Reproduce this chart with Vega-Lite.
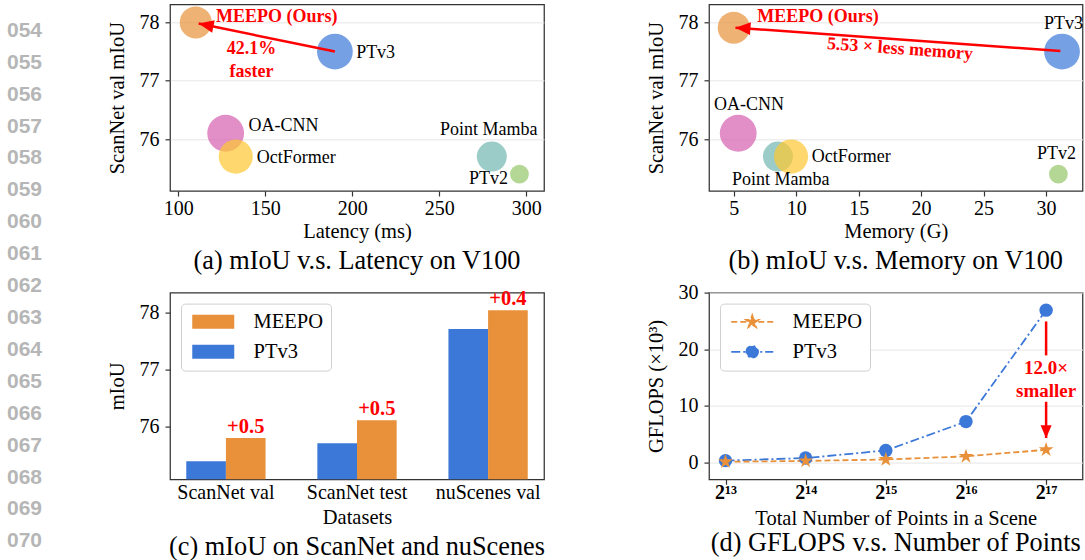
{
  "$schema": "https://vega.github.io/schema/vega-lite/v6.json",
  "padding": {"left": 0, "top": 3.3, "right": 0, "bottom": 0},
  "background": "white",
  "columns": 5,
  "spacing": {"row": 101.3, "column": 10},
  "bounds": "flush",
  "align": "each",
  "resolve": {
    "scale": {"color": "independent", "size": "independent", "shape": "independent", "strokeDash": "independent"},
    "legend": {"color": "independent", "size": "independent", "shape": "independent", "strokeDash": "independent"}
  },
  "config": {
    "font": "Liberation Serif",
    "view": {"stroke": null},
    "axis": {
      "domain": false, "tickColor": "#333333", "tickSize": 5, "tickWidth": 1.2,
      "labelFont": "Liberation Serif", "labelFontSize": 20, "labelColor": "#000000",
      "titleFont": "Liberation Serif", "titleFontSize": 20.5, "titleFontWeight": "normal", "titleColor": "#000000",
      "gridColor": "#e6e6e6", "gridWidth": 1, "labelPadding": 2.5, "labelFlush": false, "labelOverlap": false
    },
    "axisX": {"titlePadding": 3.5},
    "axisY": {"labelPadding": 6, "titlePadding": 11.5},
    "title": {"font": "Liberation Serif", "fontSize": 26.3, "fontWeight": "normal", "color": "#000000"}
  },
  "datasets": {
    "lnTop": [
      {"n": 54, "label": "054"}, {"n": 55, "label": "055"}, {"n": 56, "label": "056"}, {"n": 57, "label": "057"},
      {"n": 58, "label": "058"}, {"n": 59, "label": "059"}, {"n": 60, "label": "060"}, {"n": 61, "label": "061"}
    ],
    "lnBot": [
      {"n": 62, "label": "062"}, {"n": 63, "label": "063"}, {"n": 64, "label": "064"}, {"n": 65, "label": "065"},
      {"n": 66, "label": "066"}, {"n": 67, "label": "067"}, {"n": 68, "label": "068"}, {"n": 69, "label": "069"},
      {"n": 70, "label": "070"}
    ],
    "models": [
      {"model": "PTv3", "latency": 190, "memory": 31.28, "miou_lat": 77.5, "miou_mem": 77.5, "params": 46.2},
      {"model": "MEEPO", "latency": 110, "memory": 5.0, "miou_lat": 78.0, "miou_mem": 77.91, "params": 37},
      {"model": "OA-CNN", "latency": 127.2, "memory": 5.36, "miou_lat": 76.1, "miou_mem": 76.1, "params": 49},
      {"model": "Point Mamba", "latency": 280.2, "memory": 8.54, "miou_lat": 75.7, "miou_mem": 75.7, "params": 32.5},
      {"model": "OctFormer", "latency": 133.0, "memory": 9.59, "miou_lat": 75.7, "miou_mem": 75.7, "params": 42},
      {"model": "PTv2", "latency": 296.1, "memory": 30.99, "miou_lat": 75.4, "miou_mem": 75.4, "params": 12.7}
    ],
    "labelsA": [
      {"model": "PTv3", "x": 202.2, "y": 77.48},
      {"model": "OA-CNN", "x": 140.3, "y": 76.22},
      {"model": "OctFormer", "x": 145.1, "y": 75.68},
      {"model": "Point Mamba", "x": 250.4, "y": 76.15},
      {"model": "PTv2", "x": 267.1, "y": 75.31}
    ],
    "labelsB": [
      {"model": "PTv3", "x": 29.84, "y": 77.98},
      {"model": "OA-CNN", "x": 3.42, "y": 76.59},
      {"model": "OctFormer", "x": 11.25, "y": 75.70},
      {"model": "Point Mamba", "x": 4.86, "y": 75.29},
      {"model": "PTv2", "x": 29.28, "y": 75.75}
    ],
    "notesA": [
      {"text": "MEEPO (Ours)", "x": 156.6, "y": 78.09},
      {"text": "42.1%", "x": 142.0, "y": 77.54},
      {"text": "faster", "x": 142.0, "y": 77.15}
    ],
    "notesB": [{"text": "MEEPO (Ours)", "x": 11.74, "y": 78.09}],
    "noteB2": [{"text": "5.53 × less memory", "x": 18.3, "y": 77.54}],
    "arrowA": [{"x1": 190, "y1": 77.5, "x2": 111.7, "y2": 77.98}],
    "arrowB": [{"x1": 31.15, "y1": 77.51, "x2": 5.14, "y2": 77.91}],
    "bars": [
      {"dataset": "ScanNet val", "model": "PTv3", "miou": 75.384, "gain": null},
      {"dataset": "ScanNet val", "model": "MEEPO", "miou": 75.794, "gain": "+0.5"},
      {"dataset": "ScanNet test", "model": "PTv3", "miou": 75.70, "gain": null},
      {"dataset": "ScanNet test", "model": "MEEPO", "miou": 76.106, "gain": "+0.5"},
      {"dataset": "nuScenes val", "model": "PTv3", "miou": 77.71, "gain": null},
      {"dataset": "nuScenes val", "model": "MEEPO", "miou": 78.04, "gain": "+0.4"}
    ],
    "flops": [
      {"model": "PTv3", "points": 8192, "gflops": 0.3},
      {"model": "PTv3", "points": 16384, "gflops": 0.75},
      {"model": "PTv3", "points": 32768, "gflops": 2.1},
      {"model": "PTv3", "points": 65536, "gflops": 7.2},
      {"model": "PTv3", "points": 131072, "gflops": 26.9},
      {"model": "MEEPO", "points": 8192, "gflops": 0.1},
      {"model": "MEEPO", "points": 16384, "gflops": 0.25},
      {"model": "MEEPO", "points": 32768, "gflops": 0.5},
      {"model": "MEEPO", "points": 65536, "gflops": 1.05},
      {"model": "MEEPO", "points": 131072, "gflops": 2.22}
    ],
    "arrowD": [
      {"points": 131072, "y1": 24.9, "y2": 18.9},
      {"points": 131072, "y1": 10.7, "y2": 4.3}
    ],
    "headD": [{"points": 131072, "y": 4.25}],
    "notesD": [
      {"text": "12.0×", "points": 131072, "y": 16.6},
      {"text": "smaller", "points": 131072, "y": 12.6}
    ]
  },
  "concat": [
    {
      "width": 49, "height": 186.7,
      "data": {"name": "lnTop"},
      "mark": {"type": "text", "font": "Liberation Sans", "fontWeight": "bold", "fontSize": 21, "color": "#b6b6b6", "baseline": "middle"},
      "encoding": {
        "y": {"field": "n", "type": "quantitative", "scale": {"domain": [53.1624, 59.0196], "reverse": true, "nice": false, "zero": false}, "axis": null},
        "text": {"field": "label", "type": "nominal"}
      }
    },
    {"width": 100.4, "height": 186.7, "data": {"values": []}, "mark": "point"},
    {
      "width": 374, "height": 186.7,
      "view": {"stroke": "#333333", "strokeWidth": 1.25},
      "title": {"text": "(a) mIoU v.s. Latency on V100", "orient": "bottom", "offset": 5.5, "frame": "group", "anchor": "middle"},
      "layer": [
        {
          "data": {"name": "models"},
          "mark": {"type": "circle", "opacity": 0.7},
          "encoding": {
            "x": {"field": "latency", "type": "quantitative", "title": "Latency (ms)", "scale": {"domain": [95.2, 310.2], "nice": false, "zero": false}, "axis": {"values": [100, 150, 200, 250, 300], "grid": false, "format": "d"}},
            "y": {"field": "miou_lat", "type": "quantitative", "title": "ScanNet val mIoU", "scale": {"domain": [75.11, 78.31], "nice": false, "zero": false}, "axis": {"values": [76, 77, 78], "grid": true, "format": "d"}},
            "size": {"field": "params", "type": "quantitative", "scale": {"domain": [0, 50], "range": [0, 1385]}, "legend": null},
            "color": {"field": "model", "type": "nominal", "scale": {"domain": ["MEEPO", "PTv3", "OA-CNN", "OctFormer", "Point Mamba", "PTv2"], "range": ["#E8913A", "#3C78D8", "#D660B0", "#FEC730", "#72B6AF", "#94C66A"]}, "legend": null}
          }
        },
        {
          "data": {"name": "labelsA"},
          "mark": {"type": "text", "align": "left", "baseline": "middle", "fontSize": 18, "font": "Liberation Serif", "color": "#000000"},
          "encoding": {
            "x": {"field": "x", "type": "quantitative", "title": "Latency (ms)"},
            "y": {"field": "y", "type": "quantitative", "title": "ScanNet val mIoU"},
            "text": {"field": "model", "type": "nominal"}
          }
        },
        {
          "data": {"name": "notesA"},
          "mark": {"type": "text", "align": "center", "baseline": "middle", "fontSize": 18, "font": "Liberation Serif", "fontWeight": "bold", "color": "#ff0000"},
          "encoding": {
            "x": {"field": "x", "type": "quantitative", "title": "Latency (ms)"},
            "y": {"field": "y", "type": "quantitative", "title": "ScanNet val mIoU"},
            "text": {"field": "text", "type": "nominal"}
          }
        },
        {
          "data": {"name": "arrowA"},
          "mark": {"type": "rule", "color": "#ff0000", "strokeWidth": 2.5},
          "encoding": {
            "x": {"field": "x1", "type": "quantitative", "title": "Latency (ms)"},
            "y": {"field": "y1", "type": "quantitative", "title": "ScanNet val mIoU"},
            "x2": {"field": "x2"},
            "y2": {"field": "y2"}
          }
        },
        {
          "data": {"name": "arrowA"},
          "mark": {"type": "point", "shape": "M0,0L2,-0.85L2,0.85Z", "filled": true, "color": "#ff0000", "opacity": 1, "size": 225, "angle": 11.6},
          "encoding": {
            "x": {"field": "x2", "type": "quantitative", "title": "Latency (ms)"},
            "y": {"field": "y2", "type": "quantitative", "title": "ScanNet val mIoU"}
          }
        }
      ]
    },
    {"width": 144.1, "height": 186.7, "data": {"values": []}, "mark": "point"},
    {
      "width": 373.5, "height": 186.7,
      "view": {"stroke": "#333333", "strokeWidth": 1.25},
      "title": {"text": "(b) mIoU v.s. Memory on V100", "orient": "bottom", "offset": 5.5, "frame": "group", "anchor": "middle"},
      "layer": [
        {
          "data": {"name": "models"},
          "mark": {"type": "circle", "opacity": 0.7},
          "encoding": {
            "x": {"field": "memory", "type": "quantitative", "title": "Memory (G)", "scale": {"domain": [3.02, 32.92], "nice": false, "zero": false}, "axis": {"values": [5, 10, 15, 20, 25, 30], "grid": false, "format": "d"}},
            "y": {"field": "miou_mem", "type": "quantitative", "title": "ScanNet val mIoU", "scale": {"domain": [75.11, 78.31], "nice": false, "zero": false}, "axis": {"values": [76, 77, 78], "grid": true, "format": "d"}},
            "size": {"field": "params", "type": "quantitative", "scale": {"domain": [0, 50], "range": [0, 1385]}, "legend": null},
            "color": {"field": "model", "type": "nominal", "scale": {"domain": ["MEEPO", "PTv3", "OA-CNN", "OctFormer", "Point Mamba", "PTv2"], "range": ["#E8913A", "#3C78D8", "#D660B0", "#FEC730", "#72B6AF", "#94C66A"]}, "legend": null}
          }
        },
        {
          "data": {"name": "labelsB"},
          "mark": {"type": "text", "align": "left", "baseline": "middle", "fontSize": 18, "font": "Liberation Serif", "color": "#000000"},
          "encoding": {
            "x": {"field": "x", "type": "quantitative", "title": "Memory (G)"},
            "y": {"field": "y", "type": "quantitative", "title": "ScanNet val mIoU"},
            "text": {"field": "model", "type": "nominal"}
          }
        },
        {
          "data": {"name": "notesB"},
          "mark": {"type": "text", "align": "center", "baseline": "middle", "fontSize": 18, "font": "Liberation Serif", "fontWeight": "bold", "color": "#ff0000"},
          "encoding": {
            "x": {"field": "x", "type": "quantitative", "title": "Memory (G)"},
            "y": {"field": "y", "type": "quantitative", "title": "ScanNet val mIoU"},
            "text": {"field": "text", "type": "nominal"}
          }
        },
        {
          "data": {"name": "noteB2"},
          "mark": {"type": "text", "align": "center", "baseline": "middle", "fontSize": 18, "font": "Liberation Serif", "fontWeight": "bold", "color": "#ff0000", "angle": 4.1},
          "encoding": {
            "x": {"field": "x", "type": "quantitative", "title": "Memory (G)"},
            "y": {"field": "y", "type": "quantitative", "title": "ScanNet val mIoU"},
            "text": {"field": "text", "type": "nominal"}
          }
        },
        {
          "data": {"name": "arrowB"},
          "mark": {"type": "rule", "color": "#ff0000", "strokeWidth": 2.5},
          "encoding": {
            "x": {"field": "x1", "type": "quantitative", "title": "Memory (G)"},
            "y": {"field": "y1", "type": "quantitative", "title": "ScanNet val mIoU"},
            "x2": {"field": "x2"},
            "y2": {"field": "y2"}
          }
        },
        {
          "data": {"name": "arrowB"},
          "mark": {"type": "point", "shape": "M0,0L2,-0.85L2,0.85Z", "filled": true, "color": "#ff0000", "opacity": 1, "size": 225, "angle": 4.1},
          "encoding": {
            "x": {"field": "x2", "type": "quantitative", "title": "Memory (G)"},
            "y": {"field": "y2", "type": "quantitative", "title": "ScanNet val mIoU"}
          }
        }
      ]
    },
    {
      "width": 49, "height": 186.7,
      "data": {"name": "lnBot"},
      "mark": {"type": "text", "font": "Liberation Sans", "fontWeight": "bold", "fontSize": 21, "color": "#b6b6b6", "baseline": "middle"},
      "encoding": {
        "y": {"field": "n", "type": "quantitative", "scale": {"domain": [62.1976, 68.0549], "reverse": true, "nice": false, "zero": false}, "axis": null},
        "text": {"field": "label", "type": "nominal"}
      }
    },
    {"width": 100.4, "height": 186.7, "data": {"values": []}, "mark": "point"},
    {
      "width": 374, "height": 186.7,
      "view": {"stroke": "#333333", "strokeWidth": 1.25},
      "title": {"text": "(c) mIoU on ScanNet and nuScenes", "orient": "bottom", "offset": 6.5, "frame": "group", "anchor": "middle"},
      "data": {"name": "bars"},
      "layer": [
        {
          "mark": {"type": "bar", "clip": true},
          "encoding": {
            "x": {"field": "dataset", "type": "nominal", "title": "Datasets", "sort": ["ScanNet val", "ScanNet test", "nuScenes val"], "scale": {"paddingInner": 0.395, "paddingOuter": 0.124}, "axis": {"labelAngle": 0, "ticks": false, "labelPadding": 3.5, "titlePadding": 4.5}},
            "xOffset": {"field": "model", "type": "nominal", "scale": {"domain": ["PTv3", "MEEPO"], "paddingInner": 0, "paddingOuter": 0}},
            "y": {"field": "miou", "type": "quantitative", "title": "mIoU", "scale": {"domain": [75.068, 78.352], "nice": false, "zero": false}, "axis": {"values": [76, 77, 78], "grid": false, "format": "d"}},
            "color": {
              "field": "model", "type": "nominal",
              "scale": {"domain": ["MEEPO", "PTv3"], "range": ["#E8913A", "#3C78D8"]},
              "legend": {
                "title": null, "orient": "top-left", "offset": 10.5, "padding": 8,
                "symbolType": "M-1,-1L5,-1L5,1L-1,1Z", "symbolSize": 196, "symbolStrokeWidth": 0, "symbolOpacity": 1,
                "labelOffset": 44, "rowPadding": 9, "labelFontSize": 20.5, "labelFont": "Liberation Serif", "labelColor": "#000000",
                "strokeColor": "#d0d0d0", "cornerRadius": 4, "fillColor": "#ffffff"
              }
            }
          }
        },
        {
          "transform": [{"filter": "datum.model === 'MEEPO'"}],
          "mark": {"type": "text", "color": "#ff0000", "font": "Liberation Serif", "fontWeight": "bold", "fontSize": 20.5, "baseline": "bottom", "dy": -1},
          "encoding": {
            "x": {"field": "dataset", "type": "nominal", "title": "Datasets", "sort": ["ScanNet val", "ScanNet test", "nuScenes val"]},
            "xOffset": {"field": "model", "type": "nominal"},
            "y": {"field": "miou", "type": "quantitative", "title": "mIoU"},
            "text": {"field": "gain", "type": "nominal"}
          }
        }
      ]
    },
    {"width": 144.1, "height": 186.7, "data": {"values": []}, "mark": "point"},
    {
      "width": 373.5, "height": 186.7,
      "view": {"stroke": "#333333", "strokeWidth": 1.25},
      "title": {"text": "(d) GFLOPS v.s. Number of Points", "orient": "bottom", "offset": 1, "frame": "group", "anchor": "middle"},
      "layer": [
        {
          "data": {"name": "flops"},
          "mark": {"type": "line", "strokeWidth": 1.8},
          "encoding": {
            "x": {"field": "points", "type": "quantitative", "title": "Total Number of Points in a Scene", "scale": {"type": "log", "base": 2, "domain": [7102.6, 179544], "nice": false}, "axis": {"values": [8192, 16384, 32768, 65536, 131072], "grid": false, "labelFontWeight": "bold", "labelPadding": -2, "titlePadding": 5.9, "labelExpr": "'2' + (datum.value == 8192 ? '¹³' : datum.value == 16384 ? '¹⁴' : datum.value == 32768 ? '¹⁵' : datum.value == 65536 ? '¹⁶' : '¹⁷')"}},
            "y": {"field": "gflops", "type": "quantitative", "title": "GFLOPS (×10³)", "scale": {"domain": [-3, 30], "nice": false, "zero": false}, "axis": {"values": [0, 10, 20, 30], "grid": true, "format": "d"}},
            "strokeDash": {"field": "model", "type": "nominal", "scale": {"domain": ["MEEPO", "PTv3"], "range": [[6, 3], [9, 3, 2, 3]]}, "legend": null},
            "color": {
              "field": "model", "type": "nominal",
              "scale": {"domain": ["MEEPO", "PTv3"], "range": ["#E8913A", "#3C78D8"]},
              "legend": {
                "title": null, "orient": "top-left", "offset": 10.5, "padding": 8,
                "symbolSize": 196, "labelOffset": 44, "rowPadding": 9, "labelFontSize": 20.5, "labelFont": "Liberation Serif", "labelColor": "#000000",
                "strokeColor": "#d0d0d0", "cornerRadius": 4, "fillColor": "#ffffff",
                "encode": {
                  "symbols": {
                    "update": {
                      "shape": {"signal": "datum.value === 'MEEPO' ? 'M-1,0L5,0M2,-0.95L2.213,-0.294L2.904,-0.294L2.345,0.112L2.558,0.769L2,0.363L1.442,0.769L1.655,0.112L1.097,-0.294L1.787,-0.294Z' : 'M-1,0L5,0M2.85,0A0.85,0.85 0 1,1 1.15,0A0.85,0.85 0 1,1 2.85,0Z'"},
                      "fill": {"signal": "datum.value === 'MEEPO' ? '#E8913A' : '#3C78D8'"},
                      "stroke": {"signal": "datum.value === 'MEEPO' ? '#E8913A' : '#3C78D8'"},
                      "strokeDash": {"signal": "datum.value === 'MEEPO' ? [6, 3] : [9, 3, 2, 3]"},
                      "strokeWidth": {"value": 1.6},
                      "opacity": {"value": 1},
                      "fillOpacity": {"value": 1},
                      "strokeOpacity": {"value": 1}
                    }
                  }
                }
              }
            }
          }
        },
        {
          "data": {"name": "flops"},
          "transform": [{"filter": "datum.model === 'PTv3'"}],
          "mark": {"type": "point", "shape": "circle", "filled": true, "opacity": 1, "size": 180},
          "encoding": {
            "x": {"field": "points", "type": "quantitative", "title": "Total Number of Points in a Scene"},
            "y": {"field": "gflops", "type": "quantitative", "title": "GFLOPS (×10³)"},
            "color": {"field": "model", "type": "nominal"}
          }
        },
        {
          "data": {"name": "flops"},
          "transform": [{"filter": "datum.model === 'MEEPO'"}],
          "mark": {"type": "point", "shape": "M0,-1L0.2245,-0.309L0.951,-0.309L0.363,0.118L0.588,0.809L0,0.382L-0.588,0.809L-0.363,0.118L-0.951,-0.309L-0.2245,-0.309Z", "filled": true, "opacity": 1, "size": 240},
          "encoding": {
            "x": {"field": "points", "type": "quantitative", "title": "Total Number of Points in a Scene"},
            "y": {"field": "gflops", "type": "quantitative", "title": "GFLOPS (×10³)"},
            "color": {"field": "model", "type": "nominal"}
          }
        },
        {
          "data": {"name": "arrowD"},
          "mark": {"type": "rule", "color": "#ff0000", "strokeWidth": 2.5},
          "encoding": {
            "x": {"field": "points", "type": "quantitative", "title": "Total Number of Points in a Scene"},
            "y": {"field": "y1", "type": "quantitative", "title": "GFLOPS (×10³)"},
            "y2": {"field": "y2"}
          }
        },
        {
          "data": {"name": "headD"},
          "mark": {"type": "point", "shape": "M0,0L2,-0.85L2,0.85Z", "filled": true, "color": "#ff0000", "opacity": 1, "size": 169, "angle": 270},
          "encoding": {
            "x": {"field": "points", "type": "quantitative", "title": "Total Number of Points in a Scene"},
            "y": {"field": "y", "type": "quantitative", "title": "GFLOPS (×10³)"}
          }
        },
        {
          "data": {"name": "notesD"},
          "mark": {"type": "text", "align": "center", "baseline": "middle", "fontSize": 19, "font": "Liberation Serif", "fontWeight": "bold", "color": "#ff0000"},
          "encoding": {
            "x": {"field": "points", "type": "quantitative", "title": "Total Number of Points in a Scene"},
            "y": {"field": "y", "type": "quantitative", "title": "GFLOPS (×10³)"},
            "text": {"field": "text", "type": "nominal"}
          }
        }
      ]
    }
  ]
}
